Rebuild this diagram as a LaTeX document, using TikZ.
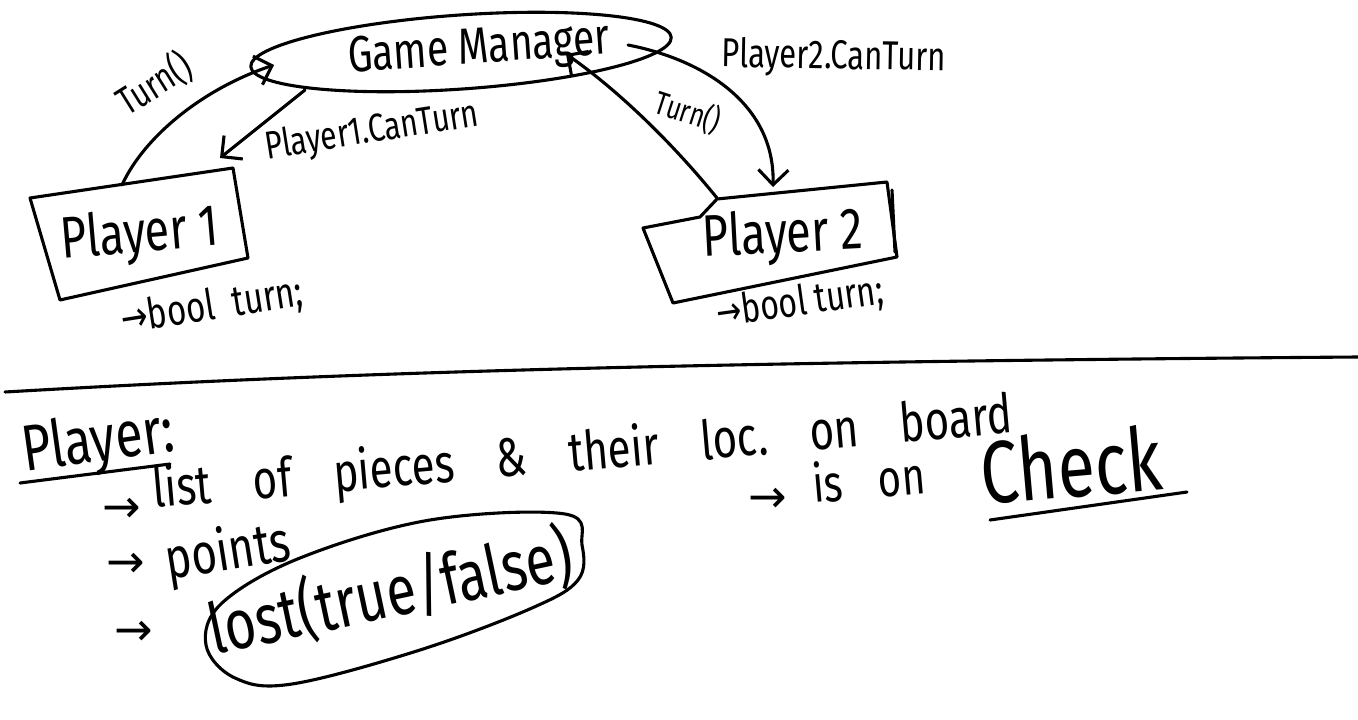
\documentclass[tikz,border=0pt]{standalone}
\usepackage{fontspec}
\usepackage{graphicx}
\setmainfont{Fira Sans}
\newfontfamily\arrfont{DejaVu Sans}
\usetikzlibrary{arrows.meta,shapes.geometric}
\newcommand\fsz[1]{\fontsize{#1}{#1}\selectfont}
\newcommand\tallt[1]{\scalebox{1}[1.3]{#1}}
\newcommand\wgap{\hspace{1.0em}}
\tikzset{
  ink/.style={line width=3.1pt, line cap=round, line join=round},
  conn/.style={ink, -{Straight Barb[length=15pt,width=30pt,line width=3.1pt]}},
  txt/.style={inner sep=0pt},
  arr/.style={inner sep=0pt, font=\arrfont\fsz{46}},
}
\begin{document}
\begin{tikzpicture}[x=1pt,y=-1pt]
\useasboundingbox (0,0) rectangle (1358,720);
\fill[white] (0,0) rectangle (1358,720);

% ---------- Game Manager ----------
\node[ellipse, ink, draw, minimum width=345pt, minimum height=74pt, rotate=4,
      font=\fsz{39}, inner sep=0pt] (gm) at (461,52) {\hspace{36pt}\tallt{Game Manager}};

% ---------- Player 1 ----------
\draw[ink] (30,198) -- (233,168) -- (248,258) -- (60,300) -- cycle;
\node[txt, font=\fsz{45}, rotate=5] (p1) at (140,236) {\tallt{Player 1}};
\node[txt, rotate=9] (b1) at (212,307) {\tallt{{\arrfont\fsz{32}→}\fsz{33}bool\hspace{18pt}turn;}};

% ---------- Player 2 ----------
\draw[ink] (643,228) -- (700,217) -- (717,199) -- (887,182) -- (897,257) -- (673,303) -- cycle;
\draw[ink] (892,190) -- (895,252);
\node[txt, font=\fsz{45}, rotate=3] (p2) at (783,237) {\tallt{Player 2}};
\node[txt, rotate=8] (b2) at (800,303) {\tallt{{\arrfont\fsz{30}→}\fsz{32}bool turn;}};

% ---------- connectors ----------
\coordinate (p1top) at (122,185);
\coordinate (gmL) at (274,65);
\coordinate (gmBL) at (305,90);
\coordinate (p1TR) at (220,158);
\coordinate (gmR) at (628,45);
\coordinate (p2top) at (773,187);
\coordinate (p2notch) at (717,198);
\coordinate (gmB) at (566,54);

\draw[conn] (p1top) .. controls (145,135) and (205,88) .. (gmL);
\draw[conn] (gmBL) -- (p1TR);
\draw[conn] (gmR) .. controls (705,60) and (775,105) .. (p2top);
\draw[conn] (p2notch) .. controls (670,140) and (615,88) .. (gmB);

\node[txt, font=\fsz{30}, rotate=32] (l1) at (154,84) {\tallt{Turn()}};
\node[txt, font=\fsz{30}, rotate=9] (l2) at (372,132) {\tallt{Player1.CanTurn}};
\node[txt, font=\fsz{31}, rotate=-1] (l3) at (834,58) {\tallt{Player2.CanTurn}};
\node[txt, font=\fsz{25}, rotate=-18] (l4) at (688,112) {\tallt{Turn()}};

% ---------- separator ----------
\draw[ink] (5,392) .. controls (350,372) and (700,362) .. (1358,357);

% ---------- Player notes ----------
\node[txt, font=\fsz{50}, rotate=8, anchor=base west] (pl) at (25,472) {\tallt{Player:}};
\draw[ink] (20,483) -- (170,464);

\node[arr] (a1) at (122,510) {→};
\node[txt, font=\fsz{42}, rotate=5, anchor=base west] (n1) at (154,508)
  {\tallt{list\wgap of\wgap pieces\wgap \&\wgap their\wgap loc.\wgap on\wgap board}};

\node[arr] (a2) at (768,500) {→};
\node[txt, font=\fsz{40}, rotate=5, anchor=base west] (n2) at (814,503) {\tallt{is\hspace{36pt}on}};
\node[txt, font=\fsz{68}, rotate=5, anchor=base west] (n3) at (983,505) {\tallt{Check}};
\draw[ink] (990,520) -- (1187,492);

\node[arr] (a3) at (126,565) {→};
\node[txt, font=\fsz{44}, rotate=9, anchor=base west] (n4) at (168,580) {\tallt{points}};

\node[arr] (a4) at (134,633) {→};
\node[txt, font=\fsz{54}, rotate=12, anchor=base west] (n5) at (214,655) {\tallt{lost(true/false)}};
\draw[ink] plot[smooth cycle, tension=0.6] coordinates
  {(565,514) (430,520) (300,558) (222,603) (206,645) (235,678) (292,684) (420,650) (532,608) (578,580) (582,545)};

\end{tikzpicture}
\end{document}
